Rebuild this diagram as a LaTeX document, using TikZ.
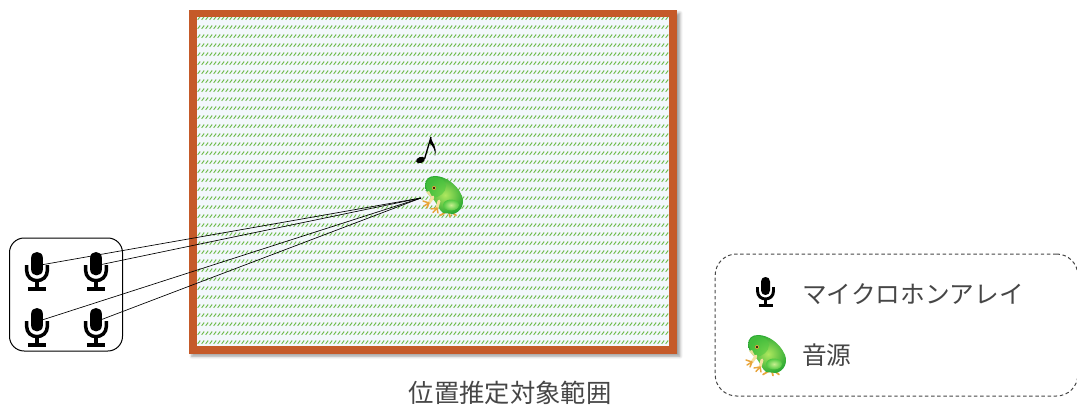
\documentclass[tikz,border=0pt]{standalone}
\usepackage{fontspec}
\newfontfamily\jpfont{Noto Sans CJK JP}
\usetikzlibrary{shadows.blur,patterns}

\definecolor{framebrown}{RGB}{197,90,41}
\definecolor{paneblue}{RGB}{243,247,252}
\definecolor{grassgreen}{RGB}{112,188,78}
\definecolor{textgray}{RGB}{70,70,70}
\definecolor{frogdark}{RGB}{45,170,52}
\definecolor{frogmid}{RGB}{80,200,65}
\definecolor{froglight}{RGB}{175,232,95}
\definecolor{frogleg}{RGB}{232,165,60}
\definecolor{frogpale}{RGB}{245,225,160}

% short slanted grass strokes, repeated in rows
\pgfdeclarepatternformonly{grassdash}{\pgfqpoint{0pt}{0pt}}{\pgfqpoint{3.3pt}{6.375pt}}{\pgfqpoint{3.3pt}{6.375pt}}{
  \pgfsetlinewidth{0.8pt}
  \pgfpathmoveto{\pgfqpoint{0.6pt}{1.8pt}}
  \pgfpathlineto{\pgfqpoint{2.7pt}{4.3pt}}
  \pgfusepath{stroke}}

\tikzset{
  mic line/.style={line width=2.2pt},
  mic/.pic={
    % capsule
    \fill[black] (-4.5,-10.5) -- (-4.5,-1.5) .. controls (-4.5,4.5) and (4.5,4.5) .. (4.5,-1.5)
      -- (4.5,-10.5) .. controls (4.5,-16.5) and (-4.5,-16.5) .. cycle;
    % cradle, stem and base
    \draw[mic line] (-8,-5) -- (-8,-1) .. controls (-8,9.67) and (8,9.67) .. (8,-1) -- (8,-5);
    \draw[mic line] (0,7) -- (0,13);
    \draw[mic line] (-7,13.5) -- (7,13.5);
    \coordinate (-c) at (0,-4.5);
  },
  frog/.pic={
    % hind foot toes
    \draw[frogleg, line width=1.3pt, line cap=round]
      (3,16) -- (-3,19.5) (6,16.5) -- (7,20.5) (9,16.5) -- (13,19.5);
    % body
    \shade[inner color=froglight, outer color=frogdark, shading=radial]
      (-18,-10) .. controls (-18,-17) and (-14,-20) .. (-8,-20)
      .. controls (2,-20) and (14,-12) .. (19,0)
      .. controls (22,8) and (18,16) .. (10,18)
      -- (0,17)
      .. controls (-4,14) and (-6,8) .. (-9,4)
      .. controls (-13,1) and (-17,-3) .. cycle;
    % brighter head and flank
    \fill[frogmid, opacity=0.6]
      (-17,-10) .. controls (-17,-16) and (-13,-19) .. (-8,-19)
      .. controls (-2,-19) and (2,-16) .. (3,-10)
      .. controls (3,-3) and (-4,1) .. (-9,2)
      .. controls (-13,0) and (-16,-4) .. cycle;
    % hind thigh
    \shade[inner color=froglight!70!white, outer color=frogmid] (8,9) ellipse (8 and 5.5);
    % pale throat
    \fill[frogpale, opacity=0.9] (-17,-4) .. controls (-14,0) and (-11,2) .. (-9,4)
      .. controls (-11,0) and (-13,-2) .. (-14,-5) -- cycle;
    % front legs
    \draw[frogpale, line width=2.2pt, line cap=round] (-10,1) -- (-14,7) (-4,5) -- (-6,12);
    \draw[frogleg, line width=1.1pt, line cap=round]
      (-14,7) -- (-20,5) (-14,7) -- (-19,10) (-14,7) -- (-16,12)
      (-6,12) -- (-12,13) (-6,12) -- (-10,16.5) (-6,12) -- (-5,17);
    % eye
    \fill[frogleg] (-9,-8) circle (2);
    \fill[black] (-9,-8) circle (1.2);
    \coordinate (-mouth) at (-22,2);
  },
  jptext/.style={font=\jpfont\fontsize{18.5pt}{20pt}\selectfont, text=textgray, inner sep=0pt}
}

\begin{document}
\begin{tikzpicture}[x=0.75pt,y=-0.75pt]
\useasboundingbox (0,0) rectangle (1077,406);

% survey area with frame and soft shadow
\path[blur shadow={shadow xshift=2.2pt, shadow yshift=-2.4pt, shadow blur radius=2.2pt, shadow opacity=40}]
  (189,10) rectangle (677,353);
\fill[paneblue] (189,10) rectangle (677,353);
\fill[pattern=grassdash, pattern color=grassgreen] (196.7,16.7) rectangle (669.5,346.5);
\draw[framebrown, line width=5.4pt] (193,13.3) rectangle (673,350);
\node[jptext, font=\jpfont\fontsize{19pt}{20pt}\selectfont] (arealabel) at (510,393) {位置推定対象範囲};

% musical note above the source
\fill[rotate around={20:(420.5,160)}] (420.5,160) ellipse (4.6 and 3);
\draw[line width=1pt] (424.6,158.8) -- (431,137);
\fill (430.6,137) .. controls (432,143) and (437.5,146) .. (435,156)
  .. controls (435.5,150) and (433,146.5) .. (429.7,143) -- cycle;

% sound source
\pic (src) at (443,196) {frog};

% microphone array
\node[draw, line width=0.75pt, rounded corners=11pt, minimum width=84.75pt, minimum height=84.75pt]
  (array) at (66,294.5) {};
\pic[scale=1.3, mic line/.style={line width=2.6pt}] (m1) at (37,271.5) {mic};
\pic[scale=1.3, mic line/.style={line width=2.6pt}] (m2) at (96,271.5) {mic};
\pic[scale=1.3, mic line/.style={line width=2.6pt}] (m3) at (37,327.5) {mic};
\pic[scale=1.3, mic line/.style={line width=2.6pt}] (m4) at (96,327.5) {mic};

% paths from the source to each microphone
\foreach \m in {m1,m2,m3,m4}
  \draw[line width=0.5pt] (\m-c) -- (src-mouth);

% legend
\node[draw=textgray, line width=0.75pt, dash pattern=on 2.6pt off 2pt, rounded corners=16pt,
  minimum width=272pt, minimum height=106.5pt] (legend) at (896.5,325) {};
\pic (lgmic) at (765.5,292) {mic};
\node[jptext, anchor=west] (lgmictext) at (802,294) {マイクロホンアレイ};
\pic (lgfrog) at (766,355) {frog};
\node[jptext, anchor=west] (lgfrogtext) at (802,355) {音源};
\end{tikzpicture}
\end{document}
